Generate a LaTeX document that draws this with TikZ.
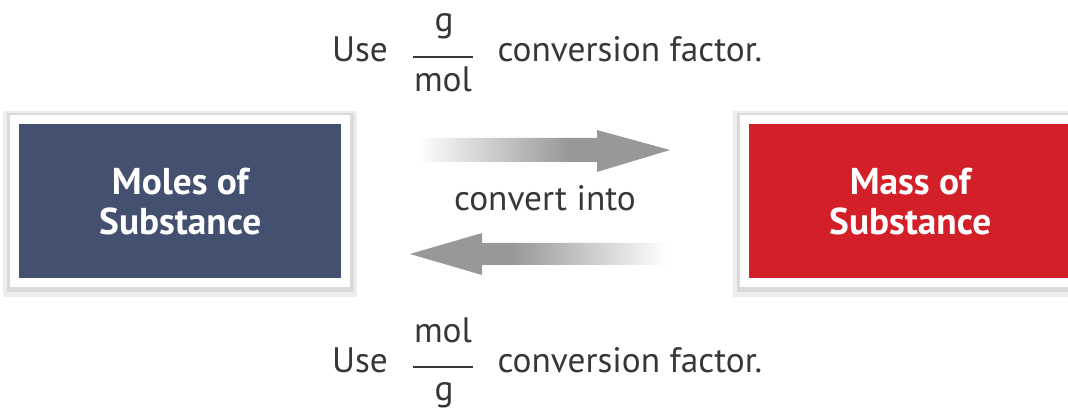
\documentclass[tikz,border=0pt]{standalone}
\usepackage{fontspec}
\setmainfont{PT Sans}
\definecolor{moleblue}{RGB}{67,80,112}
\definecolor{massred}{RGB}{211,32,40}
\definecolor{arrowgray}{RGB}{152,152,152}
\definecolor{textgray}{RGB}{55,55,55}
\pgfdeclarehorizontalshading{arrowfade}{100bp}{color(0bp)=(white); color(25bp)=(white); color(55bp)=(arrowgray); color(100bp)=(arrowgray)}

\tikzset{every picture/.style={line width=0.75pt}}
\tikzset{
  substbox/.style={draw=white, line width=6.75pt, inner sep=0pt,
    minimum width=248.6pt, minimum height=121.9pt, text=white, align=center,
    font=\fontsize{28}{30}\selectfont\bfseries,
    preaction={draw=black, opacity=0.07, line width=17pt, transform canvas={yshift=-2pt}},
    preaction={draw=black, opacity=0.08, line width=12pt, transform canvas={yshift=-1pt}}},
  convtext/.style={text=textgray, font=\fontsize{26.5}{30}\selectfont, inner sep=0pt},
  fatarrow/.style={shading=arrowfade, draw=none}
}

\begin{document}
\begin{tikzpicture}[x=0.75pt,y=0.75pt,yscale=-1,xscale=1]
\useasboundingbox (0,0) rectangle (1068,409);
\clip (0,0) rectangle (1068,409);

%Shape: Rectangle [moles]
\node [substbox, fill=moleblue] (moles) at (180.25,201.25) {Moles of\\Substance};
%Shape: Rectangle [mass]
\node [substbox, fill=massred] (mass) at (910.25,201.25) {Mass of\\Substance};

%Shape: Arrow right
\path [fatarrow] (417,138) -- (597,138) -- (597,130) -- (670,150) -- (597,172) -- (597,162) -- (417,162) -- cycle ;
%Shape: Arrow left
\path [fatarrow, shading angle=180] (667,243) -- (482,243) -- (482,233) -- (410,254) -- (482,275) -- (482,265) -- (667,265) -- cycle ;

% Text Node
\node [convtext] (into) at (545,198) {convert into};

% Text Node -- top factor
\node [convtext, anchor=base] (usetop) at (360,62) {Use};
\node [convtext, anchor=base] (gtop) at (444,32) {g};
\node [convtext, anchor=base] (moltop) at (443,92) {mol};
\draw [textgray, line width=1.5pt] (413,57) -- (473,57) ;
\node [convtext, anchor=base west] (factortop) at (497,62) {conversion factor.};

% Text Node -- bottom factor
\node [convtext, anchor=base] (usebot) at (360,373) {Use};
\node [convtext, anchor=base] (molbot) at (443,343) {mol};
\node [convtext, anchor=base] (gbot) at (444,401) {g};
\draw [textgray, line width=1.5pt] (413,367) -- (473,367) ;
\node [convtext, anchor=base west] (factorbot) at (497,373) {conversion factor.};
\end{tikzpicture}
\end{document}
